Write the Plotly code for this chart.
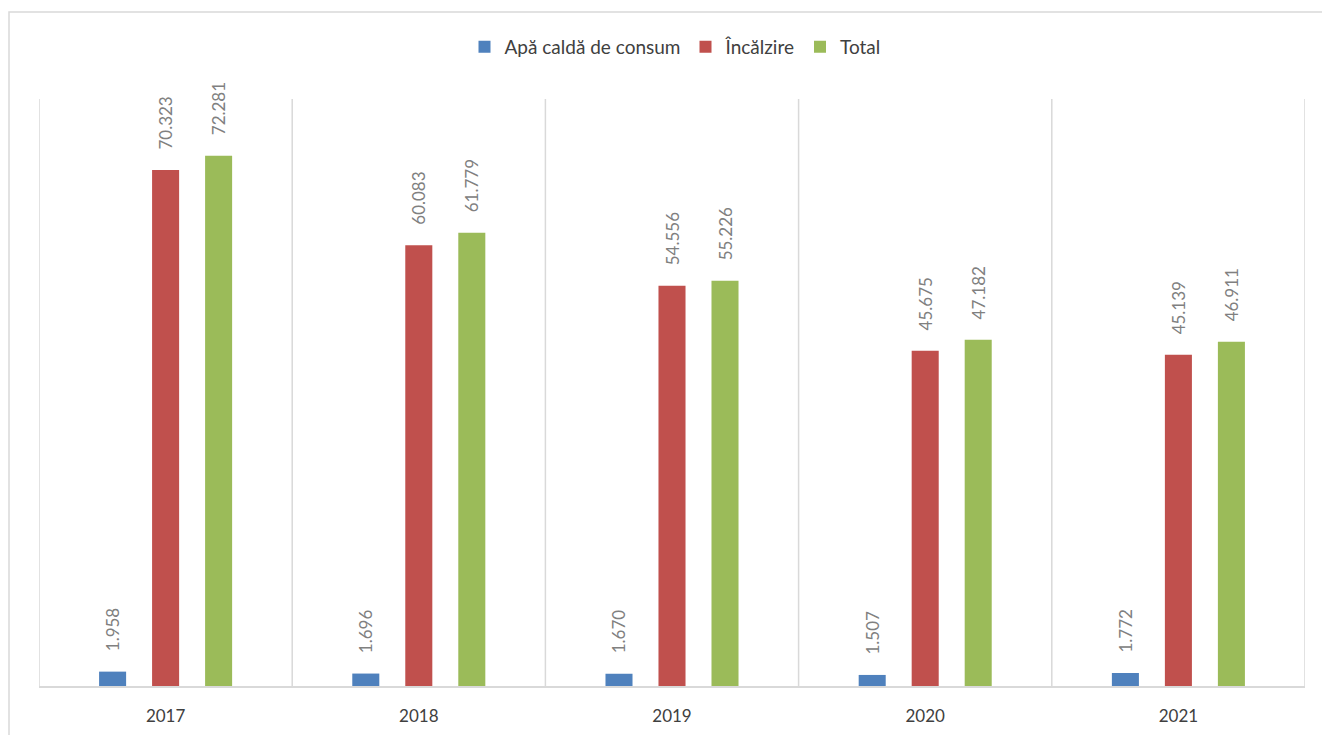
import plotly.graph_objects as go

years = ["2017", "2018", "2019", "2020", "2021"]
apa_calda = [1.958, 1.696, 1.670, 1.507, 1.772]
incalzire = [70.323, 60.083, 54.556, 45.675, 45.139]
total = [72.281, 61.779, 55.226, 47.182, 46.911]

series = [
    ("Apă caldă de consum", apa_calda, "#4f81bd"),
    ("Încălzire", incalzire, "#c0504d"),
    ("Total", total, "#9bbb59"),
]

FONT = "Lato"
fig = go.Figure()
for name, vals, color in series:
    fig.add_trace(go.Bar(
        x=years, y=vals, name=name,
        marker=dict(color=color, line=dict(width=0)),
        text=["\u00a0" * 4 + f"{v:.3f}" for v in vals],
        textposition="outside", textangle=-90, constraintext="none",
        textfont=dict(family=FONT, size=17, color="#808080"),
        cliponaxis=False,
    ))

W, H = 1322, 735
l, r, t, b = 39, W - 1305, 99, H - 686
pw, ph = W - l - r, H - t - b

shapes = []
for i in range(len(years) + 1):
    shapes.append(dict(type="line", xref="x", yref="paper", x0=i - 0.5, x1=i - 0.5,
                       y0=0, y1=1, line=dict(color="#d9d9d9", width=1.5), layer="below"))
# outer chart border
shapes.append(dict(type="rect", xref="paper", yref="paper",
                   x0=(9 - l) / pw, x1=(1340 - l) / pw,
                   y0=(686 - 760) / ph, y1=(686 - 12) / ph,
                   line=dict(color="#d9d9d9", width=1.5), fillcolor="rgba(0,0,0,0)", layer="below"))

fig.update_layout(
    width=W, height=H,
    margin=dict(l=l, r=r, t=t, b=b, pad=0, autoexpand=False),
    paper_bgcolor="white", plot_bgcolor="white",
    barmode="group", bargap=0.372, bargroupgap=0.49,
    font=dict(family=FONT, color="#404040"),
    showlegend=True,
    legend=dict(orientation="h", x=(675 - l) / pw, xanchor="center",
                y=(686 - 47) / ph, yanchor="middle",
                font=dict(family=FONT, size=19, color="#404040"),
                itemwidth=30, traceorder="normal"),
    xaxis=dict(type="category", range=[-0.5, 4.5], showgrid=False, showline=True,
               linecolor="#d9d9d9", linewidth=2, ticks="", ticklen=0,
               ticklabelstandoff=14, automargin=False,
               tickfont=dict(family=FONT, size=17, color="#404040"), zeroline=False),
    yaxis=dict(range=[0, 80], showgrid=False, showticklabels=False, zeroline=False,
               showline=False, ticks="", automargin=False),
    shapes=shapes,
)
fig.write_html("out.html")
